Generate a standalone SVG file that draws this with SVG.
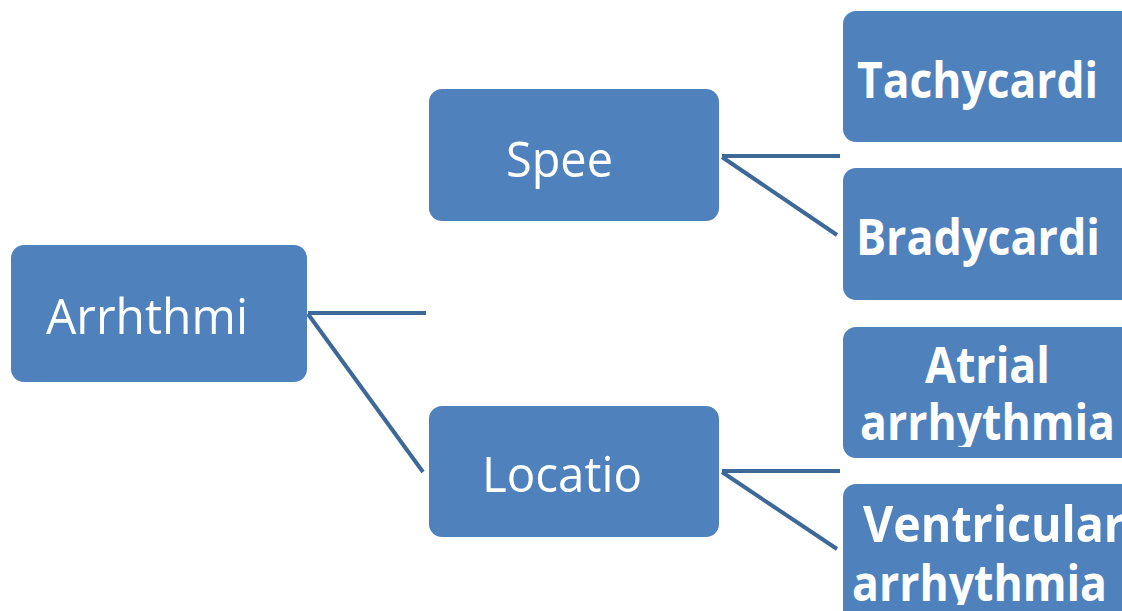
<svg xmlns="http://www.w3.org/2000/svg" width="1122" height="611" viewBox="0 0 1122 611">
<style>
.box{fill:#4f81bd}
.t{fill:#ffffff;font-family:"Open Sans","Noto Sans","Liberation Sans",sans-serif;font-size:50px}
.b{fill:#ffffff;font-family:"Open Sans","Noto Sans","Liberation Sans",sans-serif;font-size:50px;font-weight:bold}
.c{stroke:#3d6898;stroke-width:4;fill:none}
</style>
<defs>
<clipPath id="clipA"><rect x="843" y="327" width="279" height="120"/></clipPath>
<clipPath id="clipV"><rect x="843" y="484" width="279" height="121"/></clipPath>
</defs>
<rect width="1122" height="611" fill="#ffffff"/>
<g id="connectors">
<line class="c" x1="308" y1="313" x2="426" y2="313"/>
<line class="c" x1="308" y1="314" x2="423" y2="472"/>
<line class="c" x1="722" y1="156" x2="840" y2="156"/>
<line class="c" x1="722" y1="157" x2="837" y2="235"/>
<line class="c" x1="722" y1="471" x2="840" y2="471"/>
<line class="c" x1="722" y1="472" x2="837" y2="549"/>
</g>
<g id="arrhythmia">
<rect class="box" x="11" y="245" width="296" height="137" rx="13"/>
<text class="t" x="46" y="334" textLength="202" lengthAdjust="spacingAndGlyphs">Arrhthmi</text>
</g>
<g id="speed">
<rect class="box" x="429" y="89" width="290" height="132" rx="13"/>
<text class="t" x="506" y="177" textLength="107" lengthAdjust="spacingAndGlyphs">Spee</text>
</g>
<g id="location">
<rect class="box" x="429" y="406" width="290" height="131" rx="13"/>
<text class="t" x="482" y="492" textLength="160" lengthAdjust="spacingAndGlyphs">Locatio</text>
</g>
<g id="tachycardia">
<rect class="box" x="843" y="11" width="300" height="131" rx="13"/>
<text class="b" x="857" y="98" textLength="241" lengthAdjust="spacingAndGlyphs">Tachycardi</text>
</g>
<g id="bradycardia">
<rect class="box" x="843" y="168" width="300" height="132" rx="13"/>
<text class="b" x="856" y="255" textLength="244" lengthAdjust="spacingAndGlyphs">Bradycardi</text>
</g>
<g id="atrial">
<rect class="box" x="843" y="327" width="300" height="131" rx="13"/>
<g clip-path="url(#clipA)">
<text class="b" x="925" y="383" textLength="125" lengthAdjust="spacingAndGlyphs">Atrial</text>
<text class="b" x="860" y="440" textLength="255" lengthAdjust="spacingAndGlyphs">arrhythmia</text>
</g>
</g>
<g id="ventricular">
<rect class="box" x="843" y="484" width="300" height="140" rx="13"/>
<g clip-path="url(#clipV)">
<text class="b" x="863" y="542" textLength="262" lengthAdjust="spacingAndGlyphs">Ventricular</text>
<text class="b" x="852" y="601" textLength="255" lengthAdjust="spacingAndGlyphs">arrhythmia</text>
</g>
</g>
</svg>
